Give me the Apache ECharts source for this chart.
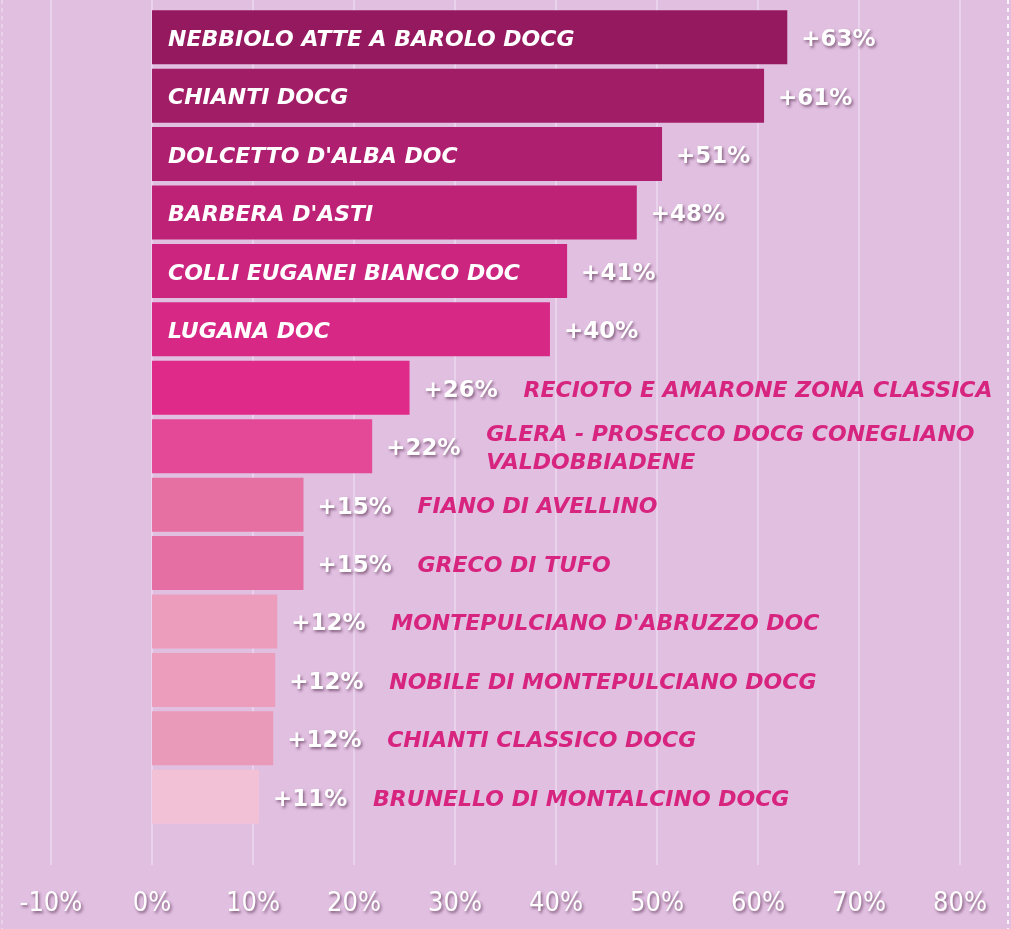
<!DOCTYPE html>
<html>
<head>
<meta charset="utf-8">
<script src="https://cdn.jsdelivr.net/npm/echarts@6/dist/echarts.min.js"></script>
<style>
	html, body { margin: 0; padding: 0; background: #e1bfe1; }
	#chart { width: 1011px; height: 929px; }
</style>
</head>
<body>
<div id="chart"></div>
<script>
	//品种数据
	var categories = ['NEBBIOLO ATTE A BAROLO DOCG', 'CHIANTI DOCG', 'DOLCETTO D\'ALBA DOC', 'BARBERA D\'ASTI',
		'COLLI EUGANEI BIANCO DOC', 'LUGANA DOC', 'RECIOTO E AMARONE ZONA CLASSICA',
		'GLERA - PROSECCO DOCG CONEGLIANO\nVALDOBBIADENE', 'FIANO DI AVELLINO', 'GRECO DI TUFO',
		'MONTEPULCIANO D\'ABRUZZO DOC', 'NOBILE DI MONTEPULCIANO DOCG', 'CHIANTI CLASSICO DOCG',
		'BRUNELLO DI MONTALCINO DOCG'];
	var values = [62.9, 60.6, 50.5, 48.0, 41.1, 39.4, 25.5, 21.8, 15.0, 15.0, 12.4, 12.2, 12.0, 10.6];
	var valueLabels = ['+63%', '+61%', '+51%', '+48%', '+41%', '+40%', '+26%', '+22%', '+15%', '+15%', '+12%', '+12%', '+12%', '+11%'];
	var colorList = ['#95195f', '#a11d66', '#ae1f6f', '#bd2276', '#cb2580', '#d72886', '#df2a8a',
		'#e44997', '#e670a2', '#e56ea2', '#eb9dbb', '#eb9dbb', '#ea9ab9', '#f2c1d6'];
	var xMin = -10, xMax = 80, xStep = 10;

	var barData = [];
	var nameData = [];
	for(var i = 0; i < values.length; i++) {
		barData.push({
			value: values[i],
			itemStyle: { color: colorList[i] }
		});
		var inside = values[i] >= 30;
		nameData.push({
			value: values[i],
			label: inside ? {
				position: 'insideLeft',
				distance: 16,
				color: '#fff'
			} : {
				position: 'right',
				distance: 114,
				color: '#d6247f',
				lineHeight: 28
			}
		});
	}

	var myChart = echarts.init(document.getElementById('chart'));

	var option = {
		backgroundColor: '#e1bfe1',
		animation: false,
		graphic: [{
			type: 'line',
			shape: { x1: 1008, y1: 0, x2: 1008, y2: 929 },
			style: { stroke: 'rgba(255,255,255,0.8)', lineWidth: 2, lineDash: [4, 4] },
			silent: true
		}, {
			type: 'line',
			shape: { x1: 2, y1: 0, x2: 2, y2: 929 },
			style: { stroke: 'rgba(255,255,255,0.3)', lineWidth: 2, lineDash: [4, 4] },
			silent: true
		}],
		grid: [{
			left: 51, right: 51, top: 8, height: 818
		}, {
			left: 51, right: 51, top: 0, bottom: 64
		}],
		xAxis: [{
			gridIndex: 0,
			type: 'value',
			min: xMin, max: xMax, interval: xStep,
			axisLine: { show: false },
			axisTick: { show: false },
			axisLabel: { show: false },
			splitLine: { show: false }
		}, {
			gridIndex: 1,
			type: 'value',
			min: xMin, max: xMax, interval: xStep,
			axisLine: { show: false },
			axisTick: { show: false },
			splitLine: {
				lineStyle: { color: '#e9d3ec', width: 2 }
			},
			axisLabel: {
				margin: 25,
				fontFamily: '"DejaVu Sans Condensed", "Liberation Sans Narrow", sans-serif',
				fontSize: 27,
				formatter: '{value}%',
				color: '#fff',
				textShadowColor: 'rgba(60,20,50,0.6)',
				textShadowBlur: 3,
				textShadowOffsetX: 1.5,
				textShadowOffsetY: 2
			}
		}],
		yAxis: [{
			gridIndex: 0,
			type: 'category',
			inverse: true,
			data: categories,
			axisLine: { show: false },
			axisTick: { show: false },
			axisLabel: { show: false }
		}, {
			gridIndex: 1,
			type: 'value',
			min: 0, max: 1,
			show: false
		}],
		series: [{
			type: 'bar',
			xAxisIndex: 0,
			yAxisIndex: 0,
			barWidth: 54,
			data: barData,
			label: {
				show: true,
				position: 'right',
				distance: 14,
				offset: [0, 3],
				fontFamily: '"DejaVu Sans", sans-serif',
				fontWeight: 'bold',
				fontSize: 23,
				color: '#fff',
				textShadowColor: 'rgba(60,20,50,0.55)',
				textShadowBlur: 3,
				textShadowOffsetX: 1.5,
				textShadowOffsetY: 2,
				formatter: function(params) {
					return valueLabels[params.dataIndex];
				}
			}
		}, {
			type: 'bar',
			xAxisIndex: 0,
			yAxisIndex: 0,
			barWidth: 54,
			barGap: '-100%',
			silent: true,
			itemStyle: { color: 'rgba(0,0,0,0)' },
			data: nameData,
			label: {
				show: true,
				offset: [0, 3],
				fontFamily: '"DejaVu Sans", sans-serif',
				fontSize: 22,
				fontWeight: 'bold',
				fontStyle: 'italic',
				formatter: function(params) {
					return categories[params.dataIndex];
				}
			}
		}]
	};
	myChart.setOption(option);
	window.onresize = function() {
		myChart.resize();
	};
</script>
</body>
</html>
